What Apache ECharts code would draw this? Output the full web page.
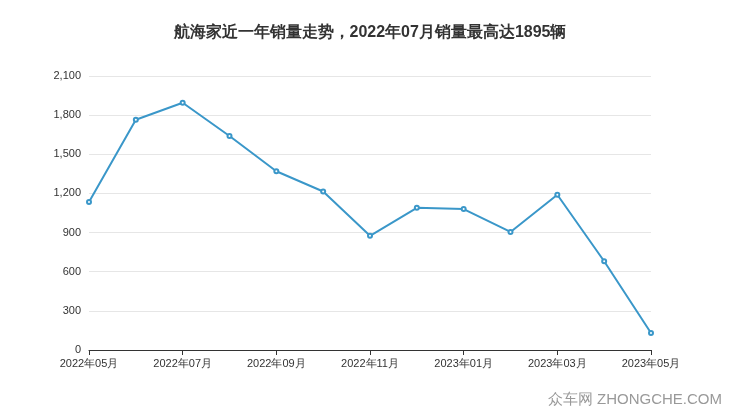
<!DOCTYPE html>
<html><head><meta charset="utf-8">
<script src="https://cdn.jsdelivr.net/npm/echarts@6/dist/echarts.min.js"></script>
<style>html,body{margin:0;padding:0;background:#fff}#c{width:740px;height:417px}</style>
</head><body><div id="c"></div>
<script>
const categories=['2022年05月','2022年06月','2022年07月','2022年08月','2022年09月','2022年10月','2022年11月','2022年12月','2023年01月','2023年02月','2023年03月','2023年04月','2023年05月'];
const sales=[1135,1765,1895,1640,1370,1215,875,1090,1080,905,1190,680,130];
const chart=echarts.init(document.getElementById('c'));
chart.setOption({
  title:{text:'航海家近一年销量走势，2022年07月销量最高达1895辆',left:'center',top:20,textStyle:{fontSize:16,fontWeight:'bold',color:'#333'}},
  graphic:[{type:'text',right:18,bottom:10,style:{text:'众车网 ZHONGCHE.COM',fontSize:15,fill:'#999'}}],
  grid:{left:89,right:89,top:76,bottom:67},
  xAxis:{type:'category',boundaryGap:false,data:categories,
    axisLine:{lineStyle:{color:'#333'}},axisTick:{interval:1,lineStyle:{color:'#333'}},
    axisLabel:{interval:1,color:'#333',fontSize:11}},
  yAxis:{type:'value',min:0,max:2100,interval:300,
    axisLabel:{color:'#333',fontSize:11,formatter:v=>v.toLocaleString('en-US')},
    splitLine:{lineStyle:{color:'#e6e6e6'}}},
  series:[{type:'line',data:sales,symbol:'emptyCircle',symbolSize:4,
    lineStyle:{color:'#3a97c9',width:2},itemStyle:{color:'#3a97c9'}}]
});
</script></body></html>
